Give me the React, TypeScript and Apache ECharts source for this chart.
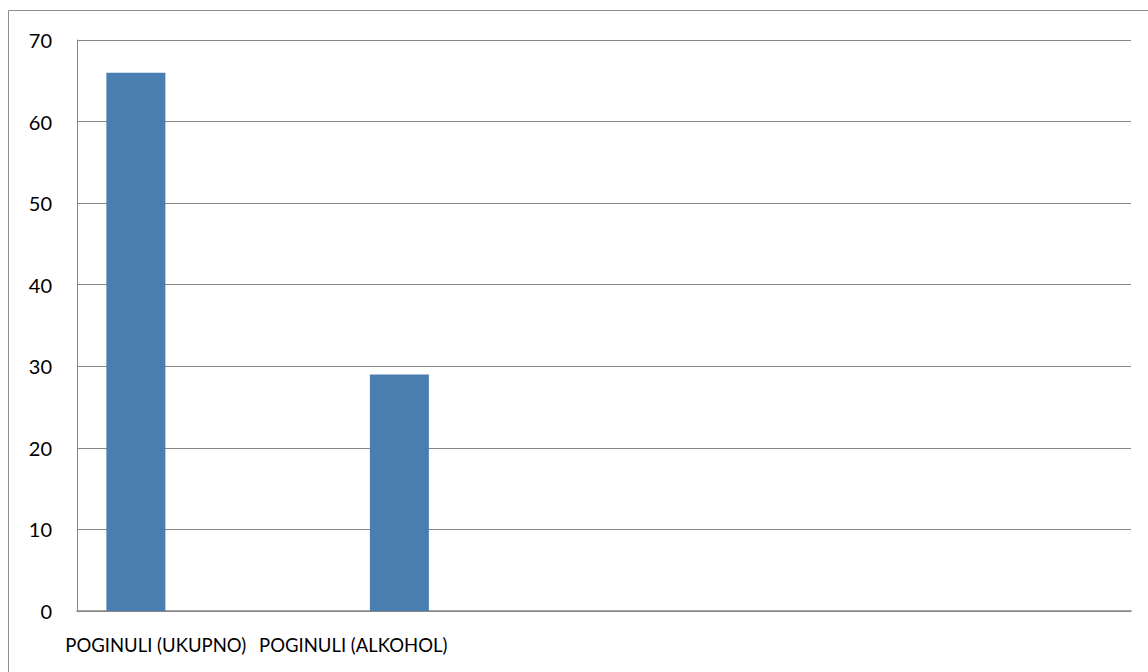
import React, { useEffect, useRef } from "react";
import * as echarts from "echarts";

const categories = ["POGINULI (UKUPNO)", "POGINULI (ALKOHOL)", "", ""];
const values = [66, 29, null, null];
const yTicks = [0, 10, 20, 30, 40, 50, 60, 70];

export default function App() {
  const ref = useRef<HTMLDivElement>(null);
  useEffect(() => {
    if (!ref.current) return;
    const chart = echarts.init(ref.current, undefined, { renderer: "svg" });
    chart.setOption({
      animation: false,
      backgroundColor: "#ffffff",
      graphic: [
        {
          type: "polyline",
          shape: { points: [[8.5, 700], [8.5, 10.5], [1200, 10.5]] },
          style: { stroke: "#8e8e8e", lineWidth: 1, fill: "none" },
          silent: true,
        },
      ],
      grid: { left: 77, top: 40, right: 17, bottom: 61, containLabel: false },
      xAxis: {
        type: "category",
        data: categories,
        boundaryGap: true,
        axisLine: { show: true, lineStyle: { color: "#868686", width: 1.5 } },
        axisTick: { show: false },
        splitLine: { show: false },
        axisLabel: {
          interval: 0,
          margin: 24,
          formatter: (v: string, i: number) =>
            i === 0 ? `{a|${v}}` : i === 1 ? `{b|${v}}` : v,
          rich: {
            a: { fontFamily: "Lato", fontSize: 18.5, color: "#000", padding: [0, 106, 0, 0] },
            b: { fontFamily: "Lato", fontSize: 18.5, color: "#000", padding: [0, 238, 0, 0] },
          },
        },
      },
      yAxis: {
        type: "value",
        min: yTicks[0],
        max: yTicks[yTicks.length - 1],
        interval: 10,
        axisLine: { show: true, lineStyle: { color: "#868686", width: 1 } },
        axisTick: { show: false },
        splitLine: { show: true, lineStyle: { color: "#868686", width: 1 } },
        axisLabel: {
          margin: 25,
          fontFamily: "Lato",
          fontSize: 20,
          color: "#000",
        },
      },
      series: [
        {
          type: "bar",
          data: values,
          barWidth: 59,
          barGap: "147%",
          itemStyle: { color: "#4a7eb0" },
        },
        {
          type: "bar",
          data: [null, null, null, null],
          barWidth: 59,
        },
      ],
    });
    return () => chart.dispose();
  }, []);
  return (
    <div
      ref={ref}
      style={{ position: "fixed", left: 0, top: 0, width: 1148, height: 672 }}
    />
  );
}
